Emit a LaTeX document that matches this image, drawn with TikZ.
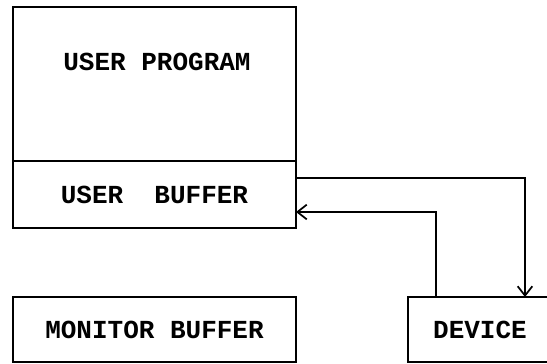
\documentclass[tikz,border=0pt]{standalone}
\usepackage{fontspec}
\setmonofont{Liberation Mono}
\usetikzlibrary{arrows.meta,calc}
\begin{document}
\begin{tikzpicture}[x=0.75pt,y=-0.75pt,
  box/.style={draw,line width=1.4pt,inner sep=0pt,outer sep=0pt,minimum width=212.25pt},
  lbl/.style={font=\ttfamily\bfseries\fontsize{19.5}{22}\selectfont,inner sep=0pt},
  conn/.style={line width=1.3pt,-{Straight Barb[length=7pt,width=11pt,line width=1.3pt]}}]
\useasboundingbox (0,0) rectangle (547,364);
\node[box,minimum height=115.5pt] (prog) at (154.5,84) {};
\node[box,minimum height=50.25pt,lbl] (ubuf) at (154.5,194.5) {USER\ \ BUFFER};
\node[lbl] (progtext) at (157,62) {USER PROGRAM};
\node[box,minimum height=48.75pt,lbl] (mon) at (154.5,329.5) {MONITOR BUFFER};
\node[box,minimum width=108pt,minimum height=48.75pt,lbl] (dev) at (480,329.5) {DEVICE};
\coordinate (outstart) at ($(ubuf.north east)+(0,17)$);
\coordinate (outend) at ($(dev.north west)+(117,0)$);
\coordinate (instart) at ($(dev.north west)+(28,0)$);
\coordinate (inend) at ($(ubuf.north east)+(0,51)$);
\draw[conn] (outstart) -| (outend);
\draw[conn] (instart) |- (inend);
\end{tikzpicture}
\end{document}
